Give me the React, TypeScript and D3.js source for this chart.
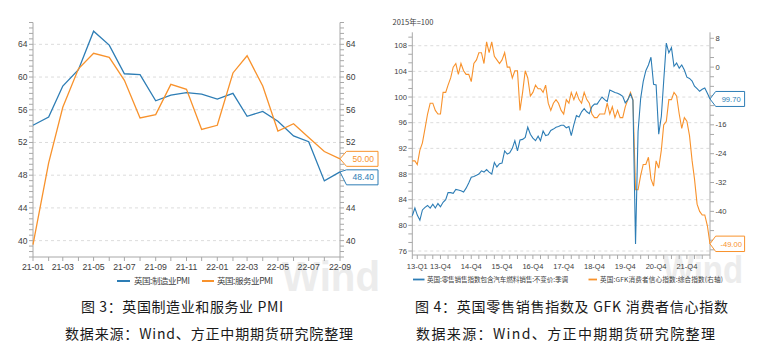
import React from 'react';
import * as d3 from 'd3';

// ---------- Chart 1: UK manufacturing & services PMI ----------
const pmiMonths = ['21-01','21-02','21-03','21-04','21-05','21-06','21-07','21-08','21-09','21-10','21-11','21-12','22-01','22-02','22-03','22-04','22-05','22-06','22-07','22-08','22-09'];
const pmiTickLabels = ['21-01','21-03','21-05','21-07','21-09','21-11','22-01','22-03','22-05','22-07','22-09'];
const manufacturingPMI = [54.1,55.1,58.9,60.9,65.6,63.9,60.4,60.3,57.1,57.8,58.1,57.9,57.3,58.0,55.2,55.8,54.6,52.8,52.1,47.3,48.4];
const servicesPMI = [39.5,49.5,56.3,61.0,62.9,62.4,59.6,55.0,55.4,59.1,58.5,53.6,54.1,60.5,62.6,58.9,53.4,54.3,52.6,50.9,50.0];
const pmiYTicks = [40,44,48,52,56,60,64];
const pmiSeriesNames = ['英国:制造业PMI','英国:服务业PMI'];

// ---------- Chart 2: UK retail sales index & GfK consumer confidence ----------
const retailFirstMonth = '2013-01';
const retailLastMonth = '2022-09';
const retailSales = [
  81.5,82.7,81.6,80.8,82.4,82.8,83.1,82.7,83.3,82.7,83.4,82.9,
  83.6,84.0,85.1,85.1,85.0,85.6,85.5,85.4,85.2,85.8,86.6,87.5,
  87.6,87.8,88.0,88.5,88.3,88.7,88.3,88.0,89.8,89.1,89.6,89.7,
  91.6,91.1,91.3,92.0,93.2,91.6,93.3,93.4,93.7,95.3,94.2,93.6,
  93.2,93.9,93.2,94.7,94.0,94.1,94.8,95.0,95.3,95.4,95.6,95.6,
  95.2,95.4,94.0,95.7,97.1,96.9,97.7,98.2,97.7,97.4,98.5,98.9,
  98.9,99.5,100.0,99.6,99.3,101.1,100.9,100.7,100.6,100.4,100.1,99.1,
  99.6,100.5,99.5,77.1,94.6,99.8,102.4,104.1,105.0,106.2,102.0,101.9,
  94.2,97.0,102.5,108.4,106.9,107.7,104.8,105.3,104.5,105.0,104.2,103.1,
  102.9,102.5,101.7,101.3,100.9,101.2,101.4,100.6,99.7
];
const gfkConfidence = [
  -26,-26,-27,-23,-21,-17,-13,-10,-10,-12,-13,-13,
  -7,-7,-5,-3,0,1,-2,1,-1,-2,-2,-4,
  1,2,4,4,1,7,4,7,3,2,1,2,
  4,0,0,-3,-1,-1,-12,-7,-1,-3,-8,-7,
  -5,-6,-6,-7,-5,-10,-12,-10,-9,-10,-12,-13,
  -9,-10,-7,-9,-7,-9,-10,-7,-9,-10,-13,-14,
  -14,-13,-13,-13,-10,-13,-11,-14,-12,-14,-14,-11,
  -9,-7,-9,-34,-34,-30,-27,-27,-25,-31,-33,-26,
  -28,-23,-16,-15,-9,-9,-7,-8,-13,-17,-14,-15,
  -19,-26,-31,-38,-40,-41,-41,-44,-49
];
const retailXTickLabels = ['13-Q1','13-Q4','14-Q4','15-Q4','16-Q4','17-Q4','18-Q4','19-Q4','20-Q4','21-Q4'];
const retailLeftTicks = [76,80,84,88,92,96,100,104,108];
const retailRightTicks = [8,0,-8,-16,-24,-32,-40,-48];
const retailSeriesNames = ['英国:零售销售指数包含汽车燃料销售:不变价:季调','英国:GFK消费者信心指数:综合指数(右轴)'];

const captions = [
  ['图 3：英国制造业和服务业 PMI', '数据来源：Wind、方正中期期货研究院整理'],
  ['图 4：英国零售销售指数及 GFK 消费者信心指数', '数据来源：Wind、方正中期期货研究院整理'],
];

const BLUE = '#2d7db5';
const ORANGE = '#f8922c';
const AXIS = '#a8a8a8';
const LABEL = '#404040';
const GRID = '#dcdcdc';
const LATIN = '"Liberation Sans", Arial, "Noto Sans CJK SC", sans-serif';
const CJK = '"Noto Sans CJK SC", "Liberation Sans", sans-serif';

type CalloutProps = { tipX: number; tipY: number; x0: number; x1: number; top: number; bottom: number; text: string; color: string; fs: number };
function Callout({ tipX, tipY, x0, x1, top, bottom, text, color, fs }: CalloutProps) {
  const pts = [[tipX, tipY], [x0, top], [x1, top], [x1, bottom], [x0, bottom]];
  return (
    <g>
      <polygon points={pts.map(p => p.join(',')).join(' ')} fill="#fff" stroke={color} strokeWidth={1} />
      <text x={(x0 + x1) / 2 + 1} y={(top + bottom) / 2} dy="0.36em" textAnchor="middle" fontFamily={LATIN} fontSize={fs} fill={color}>{text}</text>
    </g>
  );
}

function PmiChart() {
  const parse = d3.timeParse('%y-%m');
  const dates = pmiMonths.map(m => parse(m) as Date);
  const x = d3.scaleTime().domain([dates[0], dates[dates.length - 1]]).range([33, 340]);
  const y = d3.scaleLinear().domain([38, 38 + 43 * (2 / 3)]).range([257, 22.5]);
  const line = d3.line<number>().x((_, i) => x(dates[i])).y(d => y(d));
  const minor = d3.range(0, 44).map(k => 38 + k * (2 / 3));
  const [y0, y1] = y.range();
  const xl = 33, xr = 340;
  const oc = y(servicesPMI[servicesPMI.length - 1]);
  const bc = y(manufacturingPMI[manufacturingPMI.length - 1]);
  const oTop = oc - 7.5, oBot = oc + 7.5;
  const bTop = Math.max(bc - 7.5, oBot + 3.5), bBot = bTop + 15;
  return (
    <g>
      <defs>
        <clipPath id="wm1"><rect x={0} y={0} width={380} height={355} /></clipPath>
      </defs>
      <text x={282} y={291} fontFamily={LATIN} fontWeight="bold" fontSize={42} fill="#ececec" textLength={98} lengthAdjust="spacingAndGlyphs" clipPath="url(#wm1)">Wind</text>
      {pmiYTicks.map(t => (
        <line key={'g' + t} x1={xl} x2={xr} y1={y(t)} y2={y(t)} stroke={GRID} strokeDasharray="3,3" strokeWidth={1} />
      ))}
      <line x1={xl} x2={xl} y1={y1} y2={y0} stroke={AXIS} />
      <line x1={xr} x2={xr} y1={y1} y2={y0} stroke={AXIS} />
      <line x1={xl} x2={xr} y1={y0} y2={y0} stroke={AXIS} />
      {minor.map((t, i) => (
        <g key={'m' + i}>
          <line x1={xl - 4} x2={xl} y1={y(t)} y2={y(t)} stroke={AXIS} />
          <line x1={xr} x2={xr + 4} y1={y(t)} y2={y(t)} stroke={AXIS} />
        </g>
      ))}
      {pmiYTicks.map(t => (
        <g key={'l' + t}>
          <text x={27.5} y={y(t)} dy="0.35em" textAnchor="end" fontFamily={LATIN} fontSize={8.5} fill={LABEL}>{t}</text>
          <text x={346} y={y(t)} dy="0.35em" textAnchor="start" fontFamily={LATIN} fontSize={8.5} fill={LABEL}>{t}</text>
        </g>
      ))}
      {dates.map((d, i) => (
        <line key={'xt' + i} x1={x(d)} x2={x(d)} y1={y0} y2={y0 + 4} stroke={AXIS} />
      ))}
      {pmiTickLabels.map(l => (
        <text key={l} x={x(parse(l) as Date)} y={270} textAnchor="middle" fontFamily={LATIN} fontSize={8.7} fill={LABEL}>{l}</text>
      ))}
      <path d={line(manufacturingPMI) || ''} fill="none" stroke={BLUE} strokeWidth={1.3} />
      <path d={line(servicesPMI) || ''} fill="none" stroke={ORANGE} strokeWidth={1.3} />
      <Callout tipX={xr} tipY={oc} x0={346.5} x1={378} top={oTop} bottom={oBot} text={servicesPMI[servicesPMI.length - 1].toFixed(2)} color={ORANGE} fs={8.5} />
      <Callout tipX={xr} tipY={bc} x0={346.5} x1={378} top={bTop} bottom={bBot} text={manufacturingPMI[manufacturingPMI.length - 1].toFixed(2)} color={BLUE} fs={8.5} />
      <line x1={117} x2={130} y1={281} y2={281} stroke={BLUE} strokeWidth={2} />
      <text x={134} y={284} fontFamily={CJK} fontSize={8.5} fill={LABEL} textLength={56} lengthAdjust="spacing">{pmiSeriesNames[0]}</text>
      <line x1={202} x2={214} y1={281} y2={281} stroke={ORANGE} strokeWidth={2} />
      <text x={217} y={284} fontFamily={CJK} fontSize={8.5} fill={LABEL} textLength={56} lengthAdjust="spacing">{pmiSeriesNames[1]}</text>
    </g>
  );
}

function RetailChart() {
  const parse = d3.timeParse('%Y-%m');
  const first = parse(retailFirstMonth) as Date;
  const last = parse(retailLastMonth) as Date;
  const dates = d3.timeMonth.range(first, d3.timeMonth.offset(last, 1));
  const x = d3.scaleTime().domain([first, last]).range([412.3, 710]);
  const yL = d3.scaleLinear().domain([75.38, 110.09]).range([255, 32.3]);
  const yR = d3.scaleLinear().domain([-52.1, 9.66]).range([255, 32.3]);
  const lineL = d3.line<number>().x((_, i) => x(dates[i])).y(d => yL(d));
  const lineR = d3.line<number>().x((_, i) => x(dates[i])).y(d => yR(d));
  const xl = 412.3, xr = 710, y0 = 255, y1 = 32.3;
  const minorL = d3.range(-1, 26).map(k => 76 + k * (4 / 3)).filter(v => v >= 75.38 && v <= 110.09);
  const minorR = d3.range(-1, 23).map(k => -48 + k * (8 / 3)).filter(v => v >= -52.1 && v <= 9.66);
  const quarterTicks = [first, ...dates.filter(d => d.getMonth() % 3 === 2)];
  const labelDate = (l: string) => {
    const yy = 2000 + parseInt(l.slice(0, 2), 10);
    const q = parseInt(l.slice(4), 10);
    const dd = new Date(yy, q * 3 - 1, 1);
    return dd < first ? first : dd;
  };
  const bv = retailSales[retailSales.length - 1];
  const ov = gfkConfidence[gfkConfidence.length - 1];
  return (
    <g>
      <text x={663} y={283} fontFamily={LATIN} fontWeight="bold" fontSize={38} fill="#ececec" textLength={80} lengthAdjust="spacingAndGlyphs">Wind</text>
      <text x={392.5} y={25} fontFamily={CJK} fontSize={7.5} fill={LABEL}>2015年=100</text>
      {retailLeftTicks.map(t => (
        <line key={'g' + t} x1={xl} x2={xr} y1={yL(t)} y2={yL(t)} stroke={GRID} strokeDasharray="3,3" />
      ))}
      <line x1={xl} x2={xl} y1={y1} y2={y0} stroke={AXIS} />
      <line x1={xr} x2={xr} y1={y1} y2={y0} stroke={AXIS} />
      <line x1={xl} x2={xr} y1={y0} y2={y0} stroke={AXIS} />
      {minorL.map((t, i) => (
        <line key={'ml' + i} x1={xl - 4} x2={xl} y1={yL(t)} y2={yL(t)} stroke={AXIS} />
      ))}
      {minorR.map((t, i) => (
        <line key={'mr' + i} x1={xr} x2={xr + 4} y1={yR(t)} y2={yR(t)} stroke={AXIS} />
      ))}
      {retailLeftTicks.map(t => (
        <text key={'ll' + t} x={407} y={yL(t)} dy="0.35em" textAnchor="end" fontFamily={LATIN} fontSize={7.6} fill={LABEL}>{t}</text>
      ))}
      {retailRightTicks.map(t => (
        <text key={'rl' + t} x={715.5} y={yR(t)} dy="0.35em" textAnchor="start" fontFamily={LATIN} fontSize={7.6} fill={LABEL}>{t}</text>
      ))}
      {quarterTicks.map((d, i) => (
        <line key={'xt' + i} x1={x(d)} x2={x(d)} y1={y0} y2={y0 + 4} stroke={AXIS} />
      ))}
      {retailXTickLabels.map(l => (
        <text key={l} x={x(labelDate(l))} y={268.7} textAnchor="middle" fontFamily={LATIN} fontSize={7.5} fill={LABEL}>{l}</text>
      ))}
      <path d={lineR(gfkConfidence) || ''} fill="none" stroke={ORANGE} strokeWidth={1.1} />
      <path d={lineL(retailSales) || ''} fill="none" stroke={BLUE} strokeWidth={1.1} />
      <Callout tipX={xr} tipY={yL(bv)} x0={715.7} x1={744.6} top={yL(bv) - 7.5} bottom={yL(bv) + 7.5} text={bv.toFixed(2)} color={BLUE} fs={7.6} />
      <Callout tipX={xr} tipY={yR(ov)} x0={715.7} x1={744.6} top={yR(ov) - 7.7} bottom={yR(ov) + 7.7} text={ov.toFixed(2)} color={ORANGE} fs={7.6} />
      <line x1={413} x2={424.5} y1={279.5} y2={279.5} stroke={BLUE} strokeWidth={1.8} />
      <text x={427} y={282} fontFamily={CJK} fontSize={6.6} fill={LABEL} textLength={141} lengthAdjust="spacing">{retailSeriesNames[0]}</text>
      <line x1={588.5} x2={597} y1={279.5} y2={279.5} stroke={ORANGE} strokeWidth={1.8} />
      <text x={600} y={282} fontFamily={CJK} fontSize={6.6} fill={LABEL} textLength={123} lengthAdjust="spacing">{retailSeriesNames[1]}</text>
    </g>
  );
}

export default function App() {
  return (
    <div style={{ position: 'absolute', left: 0, top: 0 }}>
      <svg width={758} height={355} viewBox="0 0 758 355" style={{ display: 'block', background: '#fff' }}>
        <rect x={0} y={0} width={758} height={355} fill="#fff" />
        <PmiChart />
        <RetailChart />
        <text x={81} y={312} fontFamily={CJK} fontSize={14} fill="#1a1a1a" textLength={202} lengthAdjust="spacing">{captions[0][0]}</text>
        <text x={65} y={338.5} fontFamily={CJK} fontSize={14} fill="#1a1a1a" textLength={288} lengthAdjust="spacing">{captions[0][1]}</text>
        <text x={415} y={312} fontFamily={CJK} fontSize={14} fill="#1a1a1a" textLength={313} lengthAdjust="spacing">{captions[1][0]}</text>
        <text x={416} y={338.5} fontFamily={CJK} fontSize={14} fill="#1a1a1a" textLength={299} lengthAdjust="spacing">{captions[1][1]}</text>
      </svg>
    </div>
  );
}
